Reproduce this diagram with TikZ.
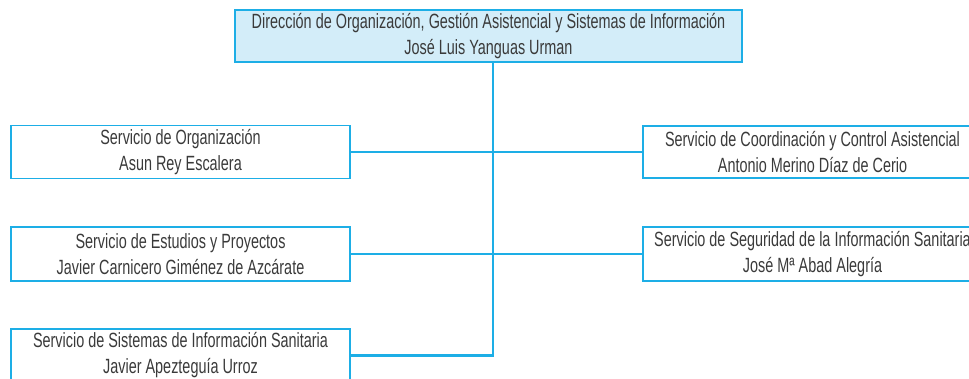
\documentclass[tikz,border=0pt]{standalone}
\usepackage{fontspec}
\setmainfont{Liberation Sans}[FakeStretch=0.7]
\definecolor{cianline}{HTML}{1DAEE6}
\definecolor{cianfill}{HTML}{D3EDF9}
\definecolor{textgray}{HTML}{3A3A3A}
\tikzstyle{unit} = [rectangle,
minimum width=339pt,
minimum height=53pt,
inner sep=0pt,
align=center,
draw=cianline,
line width=1.3pt,
text=textgray,
font=\fontsize{20.6}{26}\selectfont]
\tikzstyle{head} = [unit, minimum width=507pt, minimum height=52pt, fill=cianfill]
\tikzstyle{link} = [cianline, line width=2.4pt]

\begin{document}
\begin{tikzpicture}[x=1pt, y=-1pt]
  \useasboundingbox (0,0) rectangle (969,378);
  \clip (0,0) rectangle (969,378);

  \node (dir) [head] at (488.5,36) {Dirección de Organización, Gestión Asistencial y Sistemas de Información\\ José Luis Yanguas Urman};
  \node (org) [unit] at (180.5,152) {Servicio de Organización\\ Asun Rey Escalera};
  \node (est) [unit, minimum height=54pt] at (180.5,254) {Servicio de Estudios y Proyectos\\ Javier Carnicero Giménez de Azcárate};
  \node (sis) [unit] at (180.5,355.5) {Servicio de Sistemas de Información Sanitaria\\ Javier Apezteguía Urroz};
  \node (coord) [unit, minimum height=52pt] at (812.5,152) {Servicio de Coordinación y Control Asistencial\\ Antonio Merino Díaz de Cerio};
  \node (seg) [unit, minimum height=54pt] at (812.5,254) {Servicio de Seguridad de la Información Sanitaria\\ José Mª Abad Alegría};

  \coordinate (hub) at (493,0);
  \draw [link] (hub |- dir.south) -- (hub |- sis.east) -- (sis.east);
  \draw [link] (org.east) -- (coord.west);
  \draw [link] (est.east) -- (seg.west);

\end{tikzpicture}
\end{document}
